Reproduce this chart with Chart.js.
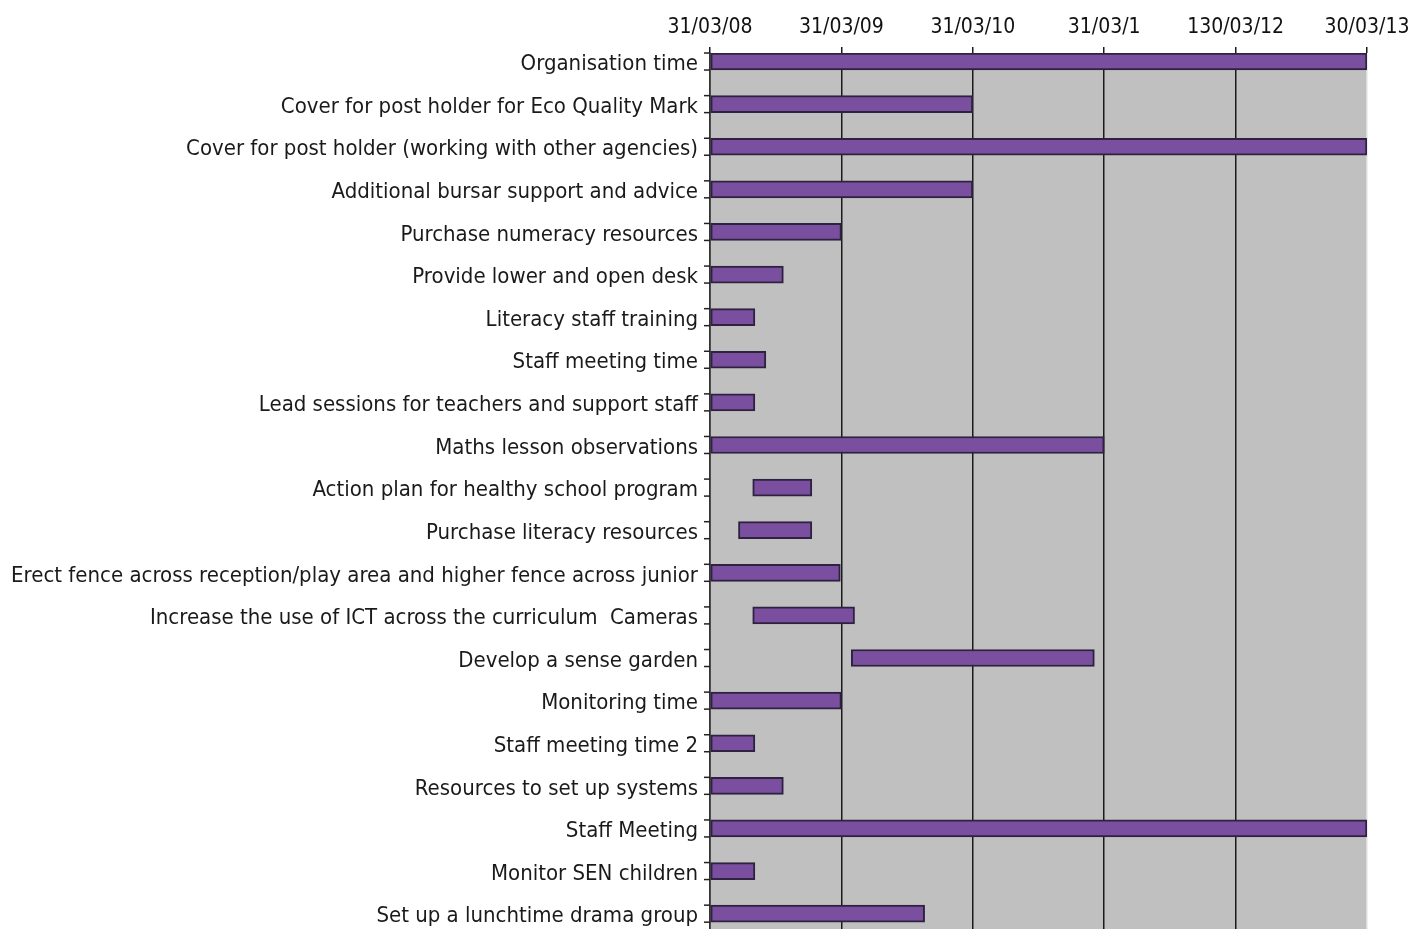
<!DOCTYPE html>
<html>
<head>
<meta charset="utf-8">
<script src="https://cdn.jsdelivr.net/npm/chart.js@4/dist/chart.umd.min.js"></script>
<style>
  html, body { margin: 0; padding: 0; background: #fff; overflow: hidden; }
  #wrap { width: 1408px; height: 929px; }
</style>
</head>
<body>
<div id="wrap"><canvas id="gantt" width="1408" height="929"></canvas></div>
<script>
/* ---------- data (months after 31/03/08) ---------- */
const tareas = [
    "Organisation time",
    "Cover for post holder for Eco Quality Mark",
    "Cover for post holder (working with other agencies)",
    "Additional bursar support and advice",
    "Purchase numeracy resources",
    "Provide lower and open desk",
    "Literacy staff training",
    "Staff meeting time",
    "Lead sessions for teachers and support staff",
    "Maths lesson observations",
    "Action plan for healthy school program",
    "Purchase literacy resources",
    "Erect fence across reception/play area and higher fence across junior",
    "Increase the use of ICT across the curriculum  Cameras",
    "Develop a sense garden",
    "Monitoring time",
    "Staff meeting time 2",
    "Resources to set up systems",
    "Staff Meeting",
    "Monitor SEN children",
    "Set up a lunchtime drama group"
];

const inicio = [0, 0, 0, 0, 0, 0, 0, 0, 0, 0, 3.9, 2.6, 0, 3.9, 12.9, 0, 0, 0, 0, 0, 0];
const fin = [60, 24, 60, 24, 12, 6.7, 4.1, 5.1, 4.1, 36, 9.3, 9.3, 11.9, 13.2, 35.1, 12, 4.1, 6.7, 60, 4.1, 19.6];

const fechas = ["31/03/08", "31/03/09", "31/03/10", "31/03/1", "130/03/12", "30/03/13"];

const FUENTE = "'DejaVu Sans Condensed', 'Liberation Sans Narrow', sans-serif";
const Y_MIN = -0.2, Y_MAX = 20.36;

/* ---------- plugins ---------- */
const fondoGris = {
    id: "fondoGris",
    beforeDraw(chart) {
        const a = chart.chartArea;
        const ctx = chart.ctx;
        ctx.save();
        ctx.fillStyle = "#c0c0c0";
        ctx.fillRect(a.left, a.top, a.right - a.left, a.bottom - a.top);
        ctx.restore();
    }
};

// small marks on the category axis at top and bottom of each bar
const marcasEje = {
    id: "marcasEje",
    afterDatasetsDraw(chart) {
        const meta = chart.getDatasetMeta(0);
        const x0 = chart.chartArea.left;
        const ctx = chart.ctx;
        ctx.save();
        ctx.strokeStyle = "#222";
        ctx.lineWidth = 1.5;
        meta.data.forEach(el => {
            const p = el.getProps(["y", "height"], true);
            [p.y - p.height / 2, p.y + p.height / 2].forEach(yy => {
                ctx.beginPath();
                ctx.moveTo(x0 - 6, yy);
                ctx.lineTo(x0, yy);
                ctx.stroke();
            });
        });
        ctx.restore();
    }
};

/* ---------- chart ---------- */
new Chart(document.getElementById("gantt"), {
    type: "bar",
    data: {
        datasets: [{
            data: tareas.map((t, i) => ({ y: i, x: [inicio[i], fin[i]] })),
            backgroundColor: "#7b4f9f",
            borderColor: "#2e2240",
            borderWidth: 2,
            borderSkipped: false,
            barThickness: 17
        }]
    },
    options: {
        indexAxis: "y",
        responsive: false,
        animation: false,
        layout: { padding: { left: 0, right: 41, top: 0, bottom: 0 } },
        plugins: {
            legend: { display: false },
            tooltip: { enabled: false }
        },
        scales: {
            x: {
                type: "linear",
                position: "top",
                min: 0,
                max: 60,
                afterFit(s) {
                    s.height = 53;
                    s.paddingLeft = 0;
                    s.paddingRight = 0;
                },
                ticks: {
                    stepSize: 12,
                    callback: v => fechas[v / 12],
                    font: { family: FUENTE, size: 21 },
                    color: "#111",
                    padding: 7,
                    maxRotation: 0
                },
                grid: {
                    color: c => c.index === 5 ? "#dcdcdc" : "#1a1a1a",
                    tickColor: "#1a1a1a",
                    lineWidth: 1.5,
                    tickLength: 6
                },
                border: { display: false }
            },
            y: {
                type: "linear",
                reverse: true,
                offset: false,
                bounds: "data",
                min: Y_MIN,
                max: Y_MAX,
                afterBuildTicks(s) {
                    s.ticks = tareas.map((t, i) => ({ value: i }));
                    s.min = Y_MIN;
                    s.max = Y_MAX;
                },
                afterFit(s) {
                    s.width = 710;
                    s.paddingTop = 0;
                    s.paddingBottom = 0;
                },
                ticks: {
                    autoSkip: false,
                    callback: v => tareas[v],
                    font: { family: FUENTE, size: 22 },
                    color: "#1a1a1a",
                    padding: 12,
                    labelOffset: 3
                },
                grid: { display: false, drawTicks: false, offset: false },
                border: { display: true, color: "#333", width: 1.5 }
            }
        }
    },
    plugins: [fondoGris, marcasEje]
});
</script>
</body>
</html>
